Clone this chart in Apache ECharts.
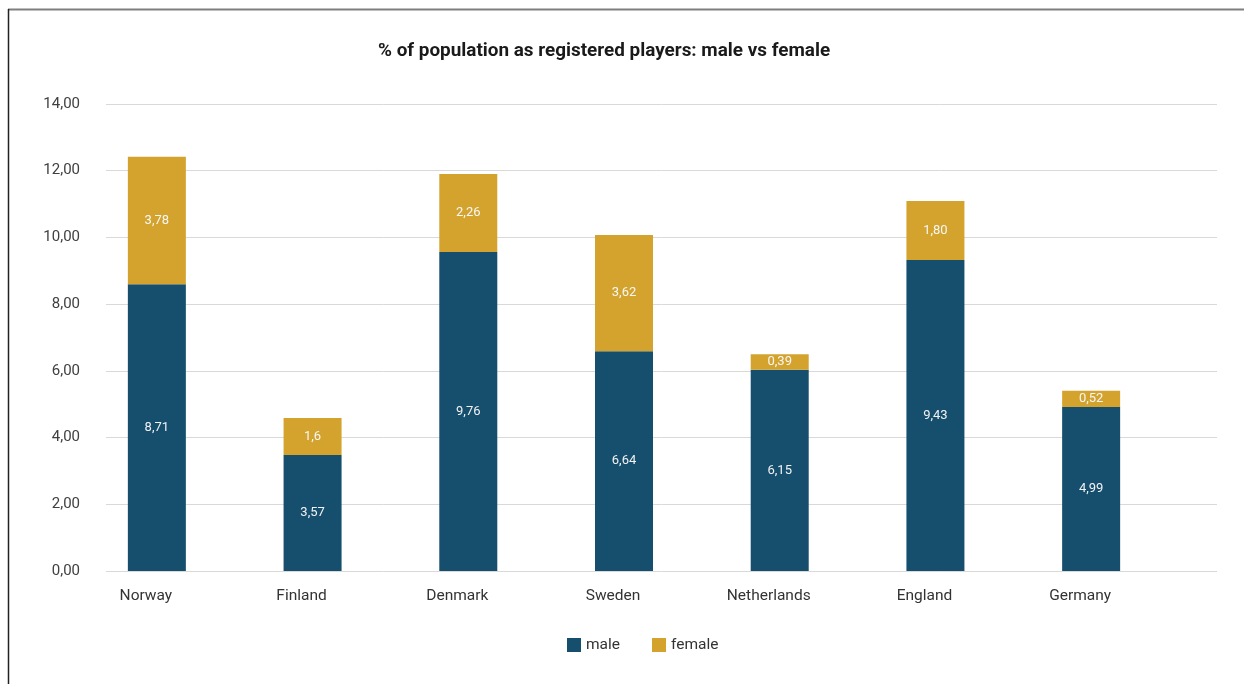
<!DOCTYPE html>
<html>
<head>
<meta charset="utf-8">
<script src="https://cdn.jsdelivr.net/npm/echarts@6/dist/echarts.min.js"></script>
<style>
  html, body { margin: 0; padding: 0; background: #ffffff; }
  #chart { width: 1244px; height: 684px; }
</style>
</head>
<body>
<div id="chart"></div>
<script>
const categories = ['Norway', 'Finland', 'Denmark', 'Sweden', 'Netherlands', 'England', 'Germany'];
const maleValues = [8.60, 3.48, 9.56, 6.59, 6.03, 9.32, 4.92];
const femaleValues = [3.82, 1.11, 2.34, 3.48, 0.47, 1.77, 0.48];
const maleLabels = ['8,71', '3,57', '9,76', '6,64', '6,15', '9,43', '4,99'];
const femaleLabels = ['3,78', '1,6', '2,26', '3,62', '0,39', '1,80', '0,52'];
const yTicks = { min: 0, max: 14, interval: 2 };

const FONT = 'Roboto';
const chart = echarts.init(document.getElementById('chart'));

chart.setOption({
  backgroundColor: '#ffffff',
  animation: false,
  textStyle: { fontFamily: FONT },
  title: {
    text: '% of population as registered players: male vs female',
    left: 373,
    top: 37,
    textStyle: { fontFamily: FONT, fontSize: 18.9, fontWeight: 'bold', color: '#1a1a1a' }
  },
  legend: {
    data: ['male', 'female'],
    left: 562,
    top: 632,
    itemWidth: 14,
    itemHeight: 14,
    itemGap: 32,
    icon: 'rect',
    textStyle: { fontFamily: FONT, fontSize: 15.5, color: '#333333' }
  },
  graphic: [
    { type: 'line', shape: { x1: 8, y1: 9.5, x2: 1244, y2: 9.5 }, style: { stroke: '#7f7f7f', lineWidth: 2 } },
    { type: 'line', shape: { x1: 8.5, y1: 9, x2: 8.5, y2: 684 }, style: { stroke: '#222222', lineWidth: 1.5 } }
  ],
  grid: [
    { left: 106, right: 27, top: 104, bottom: 113 },
    { left: 79, right: 75, top: 104, bottom: 113 }
  ],
  xAxis: [
    { type: 'value', gridIndex: 0, show: false, min: 0, max: 1 },
    {
      type: 'category', gridIndex: 1, data: categories,
      axisLine: { show: false }, axisTick: { show: false },
      axisLabel: { color: '#333333', fontSize: 15.5, margin: 17, fontFamily: FONT, padding: [0, 22, 0, 0] }
    }
  ],
  yAxis: [
    {
      type: 'value', gridIndex: 0, min: yTicks.min, max: yTicks.max, interval: yTicks.interval,
      axisLine: { show: false }, axisTick: { show: false },
      axisLabel: {
        color: '#404040', fontSize: 15, margin: 26, fontFamily: FONT,
        formatter: v => v.toFixed(2).replace('.', ',')
      },
      splitLine: { lineStyle: { color: '#d9d9d9', width: 1 } }
    },
    {
      type: 'value', gridIndex: 1, min: yTicks.min, max: yTicks.max, interval: yTicks.interval,
      show: false, splitLine: { show: false }
    }
  ],
  series: [
    {
      name: 'male', type: 'bar', stack: 'total', xAxisIndex: 1, yAxisIndex: 1,
      barWidth: 58,
      itemStyle: { color: '#164E6E' },
      data: maleValues,
      label: {
        show: true, position: 'inside', color: '#f2f2f2', fontSize: 13, fontFamily: FONT,
        formatter: p => maleLabels[p.dataIndex]
      }
    },
    {
      name: 'female', type: 'bar', stack: 'total', xAxisIndex: 1, yAxisIndex: 1,
      barWidth: 58,
      itemStyle: { color: '#D3A32E' },
      data: femaleValues,
      label: {
        show: true, position: 'inside', color: '#f7f7f7', fontSize: 13, fontFamily: FONT,
        formatter: p => femaleLabels[p.dataIndex]
      }
    }
  ]
});
</script>
</body>
</html>
